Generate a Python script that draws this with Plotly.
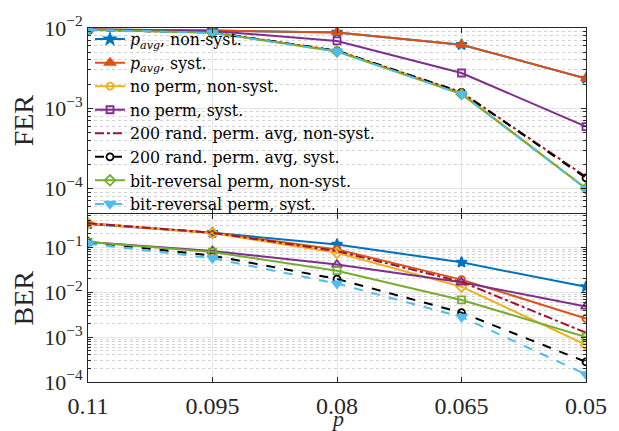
import plotly.graph_objects as go
from plotly.subplots import make_subplots

p = [0.11, 0.095, 0.08, 0.065, 0.05]
x_ticks = [0.11, 0.095, 0.08, 0.065, 0.05]
x_ticktext = ["0.11", "0.095", "0.08", "0.065", "0.05"]

names = [
    "<i>p</i><sub><i>avg</i></sub>, non-syst.",
    "<i>p</i><sub><i>avg</i></sub>, syst.",
    "no perm, non-syst.",
    "no perm, syst.",
    "200 rand. perm. avg, non-syst.",
    "200 rand. perm. avg, syst.",
    "bit-reversal perm, non-syst.",
    "bit-reversal perm, syst.",
]

# FER values
fer_pavg_ns = [9.6e-3, 9.3e-3, 8.8e-3, 6.2e-3, 2.35e-3]
fer_pavg_s = [9.6e-3, 9.3e-3, 8.8e-3, 6.2e-3, 2.35e-3]
fer_noperm_ns = [9.5e-3, 8.8e-3, 5.2e-3, 1.55e-3, 1.0e-4]
fer_noperm_s = [9.6e-3, 9.2e-3, 6.9e-3, 2.75e-3, 5.9e-4]
fer_rand_ns = [9.5e-3, 8.8e-3, 5.2e-3, 1.58e-3, 1.4e-4]
fer_rand_s = [9.5e-3, 8.8e-3, 5.2e-3, 1.58e-3, 1.35e-4]
fer_bitrev_ns = [9.5e-3, 8.7e-3, 5.1e-3, 1.5e-3, 1.0e-4]
fer_bitrev_s = [9.5e-3, 8.7e-3, 5.1e-3, 1.5e-3, 0.99e-4]

# BER values
ber_pavg_ns = [0.33, 0.21, 0.115, 0.046, 0.0131]
ber_pavg_s = [0.34, 0.21, 0.089, 0.019, 0.0026]
ber_noperm_ns = [0.34, 0.205, 0.075, 0.0132, 0.00067]
ber_noperm_s = [0.13, 0.082, 0.041, 0.0166, 0.0048]
ber_rand_ns = [0.34, 0.21, 0.082, 0.017, 0.00125]
ber_rand_s = [0.131, 0.065, 0.0196, 0.0035, 0.00028]
ber_bitrev_ns = [0.13, 0.078, 0.030, 0.0067, 0.0010]
ber_bitrev_s = [0.12, 0.057, 0.0155, 0.0028, 0.000148]

fer_tickvals = [1e-4, 1e-3, 1e-2]
fer_ticktext = ["10<sup>−4</sup>", "10<sup>−3</sup>", "10<sup>−2</sup>"]
ber_tickvals = [1e-4, 1e-3, 1e-2, 1e-1]
ber_ticktext = ["10<sup>−4</sup>", "10<sup>−3</sup>", "10<sup>−2</sup>", "10<sup>−1</sup>"]
minor_mult = [2, 3, 4, 5, 6, 7, 8, 9]
minor_decades = [1e-5, 1e-4, 1e-3, 1e-2, 1e-1]
minor_vals = [m * d for d in minor_decades for m in minor_mult]

BLUE = "#0072BD"; ORANGE = "#D95319"; YELLOW = "#EDB120"; PURPLE = "#7E2F8E"
GREEN = "#77AC30"; CYAN = "#4DBEEE"; DRED = "#A2142F"; BLACK = "#000000"

FONT = "Liberation Serif"
LFONT = "DejaVu Serif"
AX = "#262626"

fer_series = [fer_pavg_ns, fer_pavg_s, fer_noperm_ns, fer_noperm_s,
              fer_rand_ns, fer_rand_s, fer_bitrev_ns, fer_bitrev_s]
ber_series = [ber_pavg_ns, ber_pavg_s, ber_noperm_ns, ber_noperm_s,
              ber_rand_ns, ber_rand_s, ber_bitrev_ns, ber_bitrev_s]
colors = [BLUE, ORANGE, YELLOW, PURPLE, DRED, BLACK, GREEN, CYAN]
dashes = ["solid", "solid", "solid", "solid", "dashdot", "dash", "solid", "dash"]
fer_markers = ["star", "triangle-up", "circle-open", "square-open", None,
               "circle-open", "diamond-open", "triangle-down"]
ber_markers = ["star", "circle-open", "diamond-open", "triangle-up-open", None,
               "circle-open", "square-open", "triangle-down"]
marker_sizes = {"star": 8, "triangle-up": 9, "circle-open": 7, "square-open": 7,
                "diamond-open": 8, "triangle-down": 9, "triangle-up-open": 9}

fig = make_subplots(rows=2, cols=1, shared_xaxes=True, vertical_spacing=0.003,
                    row_heights=[188, 170])

for row, series, markers, show in [(1, fer_series, fer_markers, True),
                                    (2, ber_series, ber_markers, False)]:
    for i in range(8):
        mk = markers[i]
        fig.add_trace(go.Scatter(
            x=p, y=series[i], name=names[i],
            mode="lines+markers" if mk else "lines",
            line=dict(color=colors[i], width=2, dash=dashes[i]),
            marker=dict(symbol=mk, size=marker_sizes[mk], color=colors[i],
                        line=dict(color=colors[i], width=1.8)) if mk else None,
            showlegend=show), row=row, col=1)

axis_common = dict(showline=True, linecolor=AX, linewidth=1, mirror="ticks",
                   ticks="inside", ticklen=5, tickcolor=AX,
                   showgrid=True, gridcolor="#e4e4e4", gridwidth=1, zeroline=False)

fig.update_xaxes(**axis_common, range=[0.11, 0.05], tickvals=x_ticks, ticktext=x_ticktext,
                 tickfont=dict(family=FONT, size=24, color=AX), ticklabelstandoff=2,
                 minor=dict(ticks="", showgrid=False))
fig.update_xaxes(showticklabels=False, row=1, col=1)

minor = dict(tickvals=minor_vals, ticks="inside", ticklen=3, tickcolor=AX, showgrid=True,
             gridcolor="#d2d2d2", griddash="dot", gridwidth=1)

fig.update_yaxes(**axis_common, type="log", row=1, col=1,
                 range=[-4.31, -2], tickvals=fer_tickvals, ticktext=fer_ticktext,
                 minor=minor, tickfont=dict(family=FONT, size=22, color=AX),
                 title=dict(text="FER", font=dict(family=FONT, size=28, color=AX),
                            standoff=2))
fig.update_yaxes(**axis_common, type="log", row=2, col=1,
                 range=[-4, -0.27], tickvals=ber_tickvals, ticktext=ber_ticktext,
                 minor=minor, tickfont=dict(family=FONT, size=22, color=AX),
                 title=dict(text="BER", font=dict(family=FONT, size=28, color=AX),
                            standoff=2))

fig.add_annotation(text="<i>p</i>", xref="paper", yref="paper", x=0.5, y=-0.104,
                   xanchor="center", yanchor="middle", showarrow=False,
                   font=dict(family=FONT, size=22, color=AX))

fig.update_layout(
    width=619, height=431,
    margin=dict(l=88, r=31, t=25, b=47),
    plot_bgcolor="white", paper_bgcolor="white",
    font=dict(family=FONT, color=AX),
    legend=dict(x=0.004, y=1.016, xanchor="left", yanchor="top",
                bgcolor="rgba(0,0,0,0)", borderwidth=0,
                font=dict(family=LFONT, size=15.8, color="#000000"),
                tracegroupgap=0, itemwidth=30),
)

fig.write_html("out.html", config={"displayModeBar": False},
               post_script="document.body.style.margin='0px';")
